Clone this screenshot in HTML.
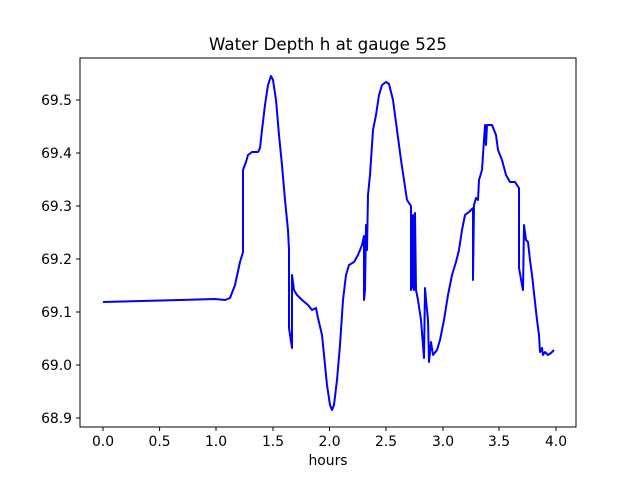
<!DOCTYPE html>
<html><head><meta charset="utf-8"><style>body{margin:0;background:#fff}svg{display:block}text{font-family:"DejaVu Sans","Liberation Sans",sans-serif;font-size:13.9px;fill:#000}</style></head><body>
<svg width="640" height="480" viewBox="0 0 640 480">
<rect width="640" height="480" fill="#fff"/>
<text x="328" y="50" text-anchor="middle" style="font-size:16.7px">Water Depth h at gauge 525</text>
<path fill="none" stroke="#0000ff" stroke-width="2" stroke-linejoin="round" d="M103,302 L180,300 L215,299 L225,300 L230,298 L235,285 L240,262 L243,252 L243,245 L243,170 L246,162 L248,155 L252,152 L258,152 L260,148 L262,130 L265,105 L268,85 L271,76 L273,80 L276,100 L279,135 L282,165 L285,200 L288,230 L289,250 L289,255 L289,328 L292,348 L292,275 L294,290 L297,295 L302,300 L308,305 L312,310 L316,308 L318,318 L322,335 L325,365 L327,385 L330,405 L332,410 L334,405 L337,380 L340,345 L343,300 L346,275 L349,265 L354,262 L358,255 L362,245 L364,236 L364,300 L365,290 L366,225 L367,250 L368,195 L370,175 L373,130 L376,115 L379,95 L382,85 L386,82 L389,84 L393,100 L397,130 L401,160 L404,180 L407,200 L411,206 L411,290 L413,285 L413,215 L414,290 L415,213 L416,290 L418,300 L421,320 L424,358 L425,288 L426,300 L428,320 L429,362 L431,342 L433,355 L437,350 L440,340 L444,320 L448,295 L452,275 L456,262 L459,250 L462,230 L465,215 L469,212 L473,208 L473,280 L474,205 L476,198 L478,200 L479,180 L482,170 L485,125 L486,145 L487,125 L492,125 L494,130 L496,135 L498,150 L502,160 L506,175 L510,182 L515,182 L519,188 L519,268 L522,285 L523,290 L524,225 L526,240 L528,242 L530,260 L532,275 L535,302 L537,320 L539,335 L540,352 L542,348 L543,355 L545,352 L548,355 L551,353 L554,350"/>
<rect x="80" y="58" width="496" height="369" fill="none" stroke="#000" stroke-width="1"/>
<g stroke="#000">
<line x1="103" y1="427" x2="103" y2="431"/><line x1="159.6" y1="427" x2="159.6" y2="431"/><line x1="216" y1="427" x2="216" y2="431"/><line x1="273" y1="427" x2="273" y2="431"/><line x1="329.5" y1="427" x2="329.5" y2="431"/><line x1="386" y1="427" x2="386" y2="431"/><line x1="443" y1="427" x2="443" y2="431"/><line x1="499" y1="427" x2="499" y2="431"/><line x1="556" y1="427" x2="556" y2="431"/>
<line x1="76" y1="100" x2="80" y2="100"/><line x1="76" y1="153" x2="80" y2="153"/><line x1="76" y1="206" x2="80" y2="206"/><line x1="76" y1="259" x2="80" y2="259"/><line x1="76" y1="312" x2="80" y2="312"/><line x1="76" y1="365" x2="80" y2="365"/><line x1="76" y1="418" x2="80" y2="418"/>
</g>
<g text-anchor="middle">
<text x="103" y="446">0.0</text><text x="159.6" y="446">0.5</text><text x="216" y="446">1.0</text><text x="273" y="446">1.5</text><text x="329.5" y="446">2.0</text><text x="386" y="446">2.5</text><text x="443" y="446">3.0</text><text x="499" y="446">3.5</text><text x="556" y="446">4.0</text>
<text x="328" y="465">hours</text>
</g>
<g text-anchor="end">
<text x="72" y="105">69.5</text><text x="72" y="158">69.4</text><text x="72" y="211">69.3</text><text x="72" y="264">69.2</text><text x="72" y="317">69.1</text><text x="72" y="370">69.0</text><text x="72" y="423">68.9</text>
</g>
</svg>
</body></html>
